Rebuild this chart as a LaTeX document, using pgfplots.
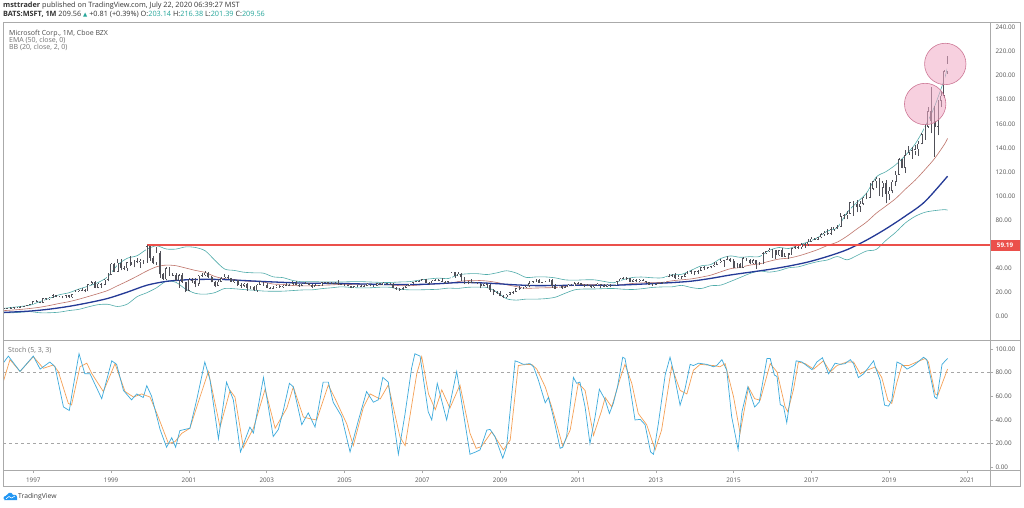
\documentclass[border=0pt]{standalone}
\usepackage{pgfplots}
\pgfplotsset{compat=1.18}
\usepackage{pgfplotstable}
\usepgfplotslibrary{fillbetween}
\usepackage{fontspec}
\setmainfont{Open Sans}
\newfontfamily\symfont{DejaVu Sans}
\definecolor{candle}{RGB}{80,80,88}
\definecolor{emac}{RGB}{36,58,150}
\definecolor{basisc}{RGB}{190,115,105}
\definecolor{bandc}{RGB}{80,172,170}
\definecolor{bandfill}{RGB}{216,236,246}
\definecolor{kc}{RGB}{60,170,220}
\definecolor{dc}{RGB}{245,160,85}
\definecolor{tvred}{RGB}{235,80,75}
\definecolor{tvgreen}{RGB}{38,166,154}
\definecolor{lblc}{RGB}{85,85,85}
\definecolor{framec}{RGB}{170,170,170}
\definecolor{pinkc}{RGB}{242,170,198}
\definecolor{pinkd}{RGB}{205,120,150}
\definecolor{tvblue}{RGB}{33,150,243}

\pgfplotstableread{
m o h l c
3 6.45 7.3 6.3 7.1
4 7.1 7.6 6.9 7.3
5 7.3 7.7 7.0 7.5
6 7.5 7.9 6.6 7.8
7 7.8 8.0 7.3 7.8
8 7.8 8.5 7.7 8.25
9 8.25 8.9 8.0 8.6
10 8.6 9.9 8.5 9.7
11 9.7 10.6 9.4 10.33
12 10.33 13.2 10.2 12.9
13 12.9 13.5 11.9 12.3
14 12.3 12.6 11.0 11.5
15 11.5 15.4 11.2 15.2
16 15.2 15.8 14.0 14.5
17 14.5 16.3 14.2 15.8
18 15.8 18.7 15.6 17.7
19 17.7 18.0 16.1 16.5
20 16.5 17.3 16.0 16.5
21 16.5 17.6 15.2 16.3
22 16.3 18.2 15.9 17.7
23 17.7 18.3 15.8 16.2
24 16.2 19.0 15.5 18.7
25 18.7 22.2 18.5 21.2
26 21.2 23.0 20.8 22.4
27 22.4 23.6 21.6 22.5
28 22.5 23.0 20.5 21.2
29 21.2 27.3 21.0 27.1
30 27.1 29.9 26.6 28.4
31 28.4 29.3 23.5 24.0
32 24.0 28.2 23.5 27.5
33 27.5 28.0 23.8 26.5
34 26.5 31.0 26.2 30.5
35 30.5 36.0 29.4 34.7
36 34.7 44.2 34.5 43.8
37 43.8 44.5 36.8 37.5
38 37.5 47.8 37.4 44.8
39 44.8 48.0 38.5 40.7
40 40.7 42.4 38.6 40.4
41 40.4 45.5 37.8 45.1
42 45.1 50.0 42.2 42.9
43 42.9 46.8 40.9 46.3
44 46.3 48.9 44.2 45.3
45 45.3 48.1 40.6 46.3
46 46.3 47.0 43.7 45.8
47 45.8 59.2 44.6 58.4
48 58.4 59.0 46.5 48.8
49 48.8 50.3 43.6 44.7
50 44.7 57.9 43.1 53.1
51 53.1 54.1 32.5 35.1
52 35.1 36.0 30.3 31.2
53 31.2 41.0 30.5 40.0
54 40.0 41.2 34.0 34.8
55 34.8 36.1 34.1 35.0
56 35.0 36.0 29.4 30.2
57 30.2 35.2 23.9 34.4
58 34.4 36.0 28.2 28.6
59 28.6 29.0 20.1 21.7
60 21.7 32.0 21.3 30.6
61 30.6 32.3 28.0 29.6
62 29.6 32.3 24.3 27.3
63 27.3 35.0 25.8 33.9
64 33.9 36.4 33.1 34.6
65 34.6 38.0 33.4 36.5
66 36.5 36.9 32.1 33.1
67 33.1 33.9 28.4 28.5
68 28.5 29.6 24.3 25.6
69 25.6 31.2 25.3 29.1
70 29.1 33.0 28.6 32.1
71 32.1 35.2 31.5 33.1
72 33.1 35.0 31.0 31.9
73 31.9 32.4 28.9 29.2
74 29.2 31.6 28.2 30.2
75 30.2 30.5 25.7 26.1
76 26.1 28.0 24.2 25.5
77 25.5 28.0 24.6 27.4
78 27.4 28.0 21.7 24.0
79 24.0 25.7 22.9 24.5
80 24.5 25.1 21.7 21.9
81 21.9 27.0 20.7 26.7
82 26.7 29.6 26.5 28.9
83 28.9 29.0 25.8 25.9
84 25.9 28.0 23.5 24.2
85 24.2 24.5 23.0 23.7
86 23.7 25.6 22.8 24.2
87 24.2 26.5 23.9 25.6
88 25.6 26.3 24.0 24.6
89 24.6 26.3 24.2 25.6
90 25.6 27.9 25.3 26.4
91 26.4 27.4 25.4 26.5
92 26.5 29.9 26.4 27.8
93 27.8 29.4 25.9 26.1
94 26.1 26.8 25.0 25.7
95 25.7 27.6 25.1 27.4
96 27.4 28.8 27.2 27.7
97 27.7 28.2 26.0 26.5
98 26.5 27.0 24.0 24.9
99 24.9 27.1 24.5 26.1
100 26.1 26.6 25.2 26.2
101 26.2 28.8 25.8 28.6
102 28.6 29.1 27.6 28.5
103 28.5 28.6 26.8 27.3
104 27.3 28.4 27.2 27.7
105 27.7 28.9 27.1 28.0
106 28.0 30.2 26.5 26.8
107 26.8 27.5 26.6 26.7
108 26.7 27.1 25.6 26.3
109 26.3 26.3 25.1 25.2
110 25.2 25.4 23.8 24.2
111 24.2 25.7 23.8 25.3
112 25.3 26.1 25.1 25.8
113 25.8 26.0 24.5 24.8
114 24.8 26.3 24.7 25.6
115 25.6 27.9 25.6 27.4
116 27.4 27.5 25.2 25.7
117 25.7 26.0 24.3 25.7
118 25.7 28.2 25.6 27.7
119 27.7 28.0 26.1 26.2
120 26.2 28.4 26.1 28.2
121 28.2 28.2 26.3 26.9
122 26.9 28.0 26.8 27.2
123 27.2 27.9 23.8 24.2
124 24.2 24.3 22.3 22.7
125 22.7 23.8 21.5 23.3
126 23.3 25.0 22.3 24.1
127 24.1 26.0 23.9 25.7
128 25.7 27.5 25.6 27.4
129 27.4 29.0 27.2 28.7
130 28.7 30.0 28.6 29.4
131 29.4 30.3 29.0 29.9
132 29.9 31.5 29.4 30.9
133 30.9 31.0 27.8 28.2
134 28.2 28.7 26.6 27.9
135 27.9 30.3 27.8 29.9
136 29.9 31.2 29.8 30.7
137 30.7 31.2 29.3 29.5
138 29.5 31.8 28.9 29.0
139 29.0 29.6 27.5 28.7
140 28.7 29.5 28.3 29.5
141 29.5 37.0 29.3 36.8
142 36.8 37.5 32.5 33.6
143 33.6 36.7 33.4 35.6
144 35.6 35.9 30.0 32.6
145 32.6 33.0 26.9 27.2
146 27.2 29.3 26.8 28.4
147 28.4 31.0 28.2 28.5
148 28.5 29.0 27.8 28.3
149 28.3 29.0 27.0 27.5
150 27.5 28.1 23.6 25.7
151 25.7 28.0 25.5 27.3
152 27.3 28.0 23.6 26.7
153 26.7 26.9 20.7 22.3
154 22.3 23.2 18.0 20.2
155 20.2 21.3 18.7 19.4
156 19.4 21.0 16.8 17.1
157 17.1 17.8 15.5 16.2
158 16.2 19.0 15.2 18.4
159 18.4 20.8 18.0 20.3
160 20.3 21.2 19.1 20.9
161 20.9 24.0 20.8 23.8
162 23.8 25.7 22.0 23.5
163 23.5 24.8 22.8 24.7
164 24.7 26.0 24.0 25.7
165 25.7 29.4 24.3 27.7
166 27.7 30.0 27.7 29.4
167 29.4 31.5 29.2 30.5
168 30.5 31.2 28.0 28.2
169 28.2 29.0 27.6 28.7
170 28.7 29.6 28.6 29.3
171 29.3 31.6 29.1 30.5
172 30.5 31.0 24.0 25.8
173 25.8 26.9 23.0 23.0
174 23.0 26.2 22.7 25.8
175 25.8 26.0 23.3 23.5
176 23.5 25.2 23.2 24.5
177 24.5 27.2 24.3 26.7
178 26.7 27.4 25.2 25.3
179 25.3 28.4 25.2 27.9
180 27.9 28.9 27.4 27.7
181 27.7 28.3 26.3 26.6
182 26.6 26.8 24.3 25.4
183 25.4 26.9 25.1 26.0
184 26.0 26.0 24.2 25.0
185 25.0 26.2 23.7 26.0
186 26.0 28.0 25.7 27.4
187 27.4 27.5 23.8 26.6
188 26.6 27.5 24.3 24.9
189 24.9 27.4 24.3 26.6
190 26.6 26.9 24.3 25.6
191 25.6 26.2 25.2 26.0
192 26.0 29.9 26.0 29.5
193 29.5 31.9 29.4 31.7
194 31.7 32.9 31.5 32.3
195 32.3 32.9 30.3 32.0
196 32.0 32.1 28.4 29.2
197 29.2 31.0 28.6 30.6
198 30.6 31.0 28.5 29.5
199 29.5 31.0 29.1 30.8
200 30.8 31.6 29.7 29.8
201 29.8 29.9 27.6 28.5
202 28.5 28.9 26.3 26.6
203 26.6 27.8 26.3 26.7
204 26.7 28.2 26.3 27.5
205 27.5 28.0 27.3 27.8
206 27.8 28.7 27.3 28.6
207 28.6 33.1 28.1 33.1
208 33.1 35.8 32.6 34.9
209 34.9 35.8 33.0 34.5
210 34.5 36.4 31.0 31.8
211 31.8 34.6 31.3 33.4
212 33.4 34.0 31.0 33.3
213 33.3 36.3 32.8 35.4
214 35.4 38.3 35.1 38.1
215 38.1 38.9 35.6 37.4
216 37.4 38.0 34.6 37.8
217 37.8 38.8 35.7 38.3
218 38.3 41.5 37.8 41.0
219 41.0 41.7 38.5 40.4
220 40.4 41.5 39.7 40.9
221 40.9 42.3 40.2 41.7
222 41.7 45.7 41.4 43.2
223 43.2 45.5 42.6 45.4
224 45.4 47.6 44.6 46.4
225 46.4 47.0 41.5 46.9
226 46.9 50.0 46.7 47.8
227 47.8 49.0 45.5 46.5
228 46.5 47.9 40.2 40.4
229 40.4 44.3 40.2 43.9
230 43.9 44.2 40.3 40.7
231 40.7 49.5 40.4 48.6
232 48.6 48.9 46.2 46.9
233 46.9 47.8 44.1 44.2
234 44.2 48.0 43.8 46.7
235 46.7 47.0 39.7 43.5
236 43.5 45.0 42.7 44.3
237 44.3 54.0 43.5 52.6
238 52.6 54.9 52.0 54.4
239 54.4 56.8 53.7 55.5
240 55.5 56.0 49.1 55.1
241 55.1 55.2 48.2 50.9
242 50.9 55.6 50.6 55.2
243 55.2 56.8 49.5 49.9
244 49.9 53.0 49.5 53.0
245 53.0 52.9 48.0 51.2
246 51.2 57.3 51.0 56.7
247 56.7 58.5 56.3 57.5
248 57.5 58.7 56.1 57.6
249 57.6 61.4 56.3 59.9
250 59.9 61.4 57.3 60.3
251 60.3 64.1 58.8 62.1
252 62.1 65.9 61.9 64.7
253 64.7 65.2 63.6 64.0
254 64.0 66.2 63.6 65.9
255 65.9 69.1 64.9 68.5
256 68.5 70.7 67.2 69.8
257 69.8 72.9 67.9 68.9
258 68.9 74.4 68.0 72.7
259 72.7 74.0 71.3 74.8
260 74.8 75.9 72.9 74.5
261 74.5 86.2 74.2 83.2
262 83.2 85.1 80.7 84.2
263 84.2 87.5 80.7 85.5
264 85.5 95.5 85.5 95.0
265 95.0 96.1 83.8 93.8
266 93.8 97.2 86.6 91.3
267 91.3 96.0 87.1 93.5
268 93.5 99.0 92.5 98.8
269 98.8 102.7 97.3 98.6
270 98.6 111.2 98.3 106.1
271 106.1 112.8 104.8 112.3
272 112.3 116.2 107.0 114.4
273 114.4 115.3 100.1 106.8
274 106.8 112.2 99.4 110.9
275 110.9 113.4 93.9 101.6
276 101.6 107.9 97.2 104.4
277 104.4 113.2 102.3 112.0
278 112.0 120.8 108.8 117.9
279 117.9 131.4 118.1 130.6
280 130.6 130.7 123.0 123.7
281 123.7 138.4 119.0 134.0
282 134.0 141.7 134.7 136.3
283 136.3 140.9 130.8 137.9
284 137.9 142.4 134.5 139.0
285 139.0 145.7 133.2 143.4
286 143.4 152.5 143.0 151.4
287 151.4 159.6 146.7 157.7
288 157.7 174.1 156.5 170.2
289 170.2 190.7 152.0 162.0
290 162.0 175.0 132.5 157.7
291 157.7 180.0 150.4 179.2
292 179.2 187.5 173.8 183.3
293 183.3 204.4 181.4 203.5
294 203.1 216.4 201.4 209.6
}\candles

\pgfplotstableread{
m basis up lo
2 4.90 6.6 3.2
5 5.44 7.6 3.2
8 6.06 8.5 3.7
11 6.86 9.6 4.2
14 7.87 12.5 3.3
17 9.31 15.3 3.3
20 11.0 18.2 3.8
23 12.5 19.9 5.1
26 14.5 22.9 6.1
29 16.8 25.4 8.2
32 19.2 28.4 10.0
35 21.8 33.3 10.3
38 25.7 42.9 8.5
41 29.5 48.5 10.5
44 33.6 50.6 16.6
47 37.9 55.9 19.9
50 41.4 58.8 24.0
53 42.8 56.2 29.4
56 42.3 56.1 28.5
59 40.4 57.9 22.9
62 38.4 57.4 19.4
65 36.7 54.7 18.7
68 33.4 46.8 20.0
71 31.5 39.6 23.4
74 30.8 38.4 23.2
77 29.7 36.9 22.5
80 29.2 36.4 22.0
83 28.7 36.1 21.3
86 27.1 33.1 21.1
89 26.8 32.4 21.2
92 25.9 30.1 21.7
95 25.6 29.0 22.2
98 25.7 29.1 22.3
101 26.1 28.9 23.3
104 26.4 28.8 24.0
107 26.8 28.8 24.8
110 26.7 29.1 24.3
113 26.5 29.1 23.9
116 26.4 28.8 24.0
119 26.5 28.5 24.5
122 26.4 28.4 24.4
125 25.8 28.8 22.8
128 25.7 29.1 22.3
131 26.3 30.3 22.3
134 26.9 31.3 22.5
137 27.4 32.0 22.8
140 27.7 31.7 23.7
143 29.1 34.7 23.5
146 30.0 35.6 24.4
149 30.1 35.7 24.5
152 29.6 35.0 24.2
155 28.4 36.4 20.4
158 26.5 38.1 14.9
161 25.0 36.2 13.8
164 23.6 32.6 14.6
167 23.8 33.0 14.6
170 24.0 33.0 15.0
173 24.2 32.2 16.2
176 25.0 30.6 19.4
179 26.3 30.3 22.3
182 26.8 30.6 23.0
185 26.8 30.6 23.0
188 26.3 29.3 23.3
191 25.8 28.2 23.4
194 26.8 30.8 22.8
197 27.6 32.6 22.6
200 28.1 32.9 23.3
203 28.3 32.3 24.3
206 28.5 32.3 24.7
209 29.8 34.8 24.8
212 30.6 35.2 26.0
215 31.4 38.6 24.2
218 32.8 42.2 23.4
221 34.5 43.3 25.7
224 37.2 48.2 26.2
227 39.8 50.4 29.2
230 40.9 49.3 32.5
233 42.8 49.8 35.8
236 43.9 49.9 37.9
239 46.0 55.0 37.0
242 47.8 57.4 38.2
245 48.6 56.6 40.6
248 50.4 59.4 41.4
251 52.9 62.1 43.7
254 55.7 65.7 45.7
257 59.1 71.1 47.1
260 61.9 73.9 49.9
263 66.8 86.4 47.2
266 72.7 94.7 50.7
269 78.5 102.5 54.5
272 85.8 115.8 55.8
275 91.8 120.3 63.3
278 98.0 126.0 70.0
281 105.8 133.8 77.8
284 113.2 143.2 83.2
287 121.9 157.2 86.6
290 131.2 174.4 88.0
293 142.8 196.8 88.8
294 147.8 207.2 88.4
}\bands

\pgfplotstableread{
m ema
2 3.55
3 3.6
11 4.7
17 6.3
23 8.6
29 11.6
35 15.2
41 20.4
47 26.1
53 29.3
59 30.6
65 31.0
71 30.8
77 30.0
83 29.2
89 28.5
95 27.9
101 27.7
107 27.6
113 27.2
119 26.9
125 26.7
131 26.8
137 27.4
143 28.3
149 28.2
155 27.4
161 26.4
167 25.8
173 25.9
179 26.1
185 26.1
191 26.1
197 26.7
203 27.5
209 28.3
215 29.5
221 31.8
227 34.6
233 36.9
239 39.2
245 42.0
251 45.4
257 50.0
263 55.6
269 63.5
275 72.9
281 83.5
287 95.4
294 116.5
}\ema

\pgfplotstableread{
m k
2.7 88
4.3 94
7.9 81
12.0 94
14.1 83
17.1 89
18.7 85
21.3 51
23.1 48
24.3 68
26.1 96
27.9 79
29.5 79
33.1 58
36.2 90
37.7 87
39.8 65
42.3 57
43.9 62
45.9 59
47.0 69
48.5 60
51.1 32
53.1 17
54.7 25
55.9 17
57.2 31
60.3 33
62.4 57
64.9 89
66.5 74
69.1 24
71.6 72
73.7 57
75.9 13
78.8 34
79.9 29
83.0 76
86.0 26
87.6 32
89.1 48
91.0 71
92.2 68
94.8 36
96.8 46
98.9 34
101.4 72
103.0 72
104.5 55
107.1 43
109.7 13
112.3 40
114.8 64
116.9 55
118.4 57
119.8 76
121.5 72
124.6 11
126.6 44
128.7 84
129.7 96
131.3 94
133.8 47
134.9 40
136.6 71
139.5 40
142.6 81
144.6 47
146.7 11
148.5 13
149.8 14.7
151.9 31.5
152.9 32
154.4 26
156.8 7.7
158.0 17.5
160.6 90
161.6 89
163.2 87
165.2 87.6
166.3 85
167.8 73.6
169.9 54.5
170.9 59
172.4 42.7
174.5 16
175.3 17
176.5 26
178.6 76
179.6 71
180.6 72
182.2 51
183.7 20
185.3 43
186.6 66
188.4 57
189.7 45.5
190.9 54
192.2 68
193.8 93
194.5 92
195.6 76
197.6 40
199.2 40.5
200.7 36
202.4 13
203.3 11
204.8 37
206.9 78
208.4 93
209.4 82
211.5 52.5
213.0 66
214.6 87
215.6 86
217.2 88
219.7 87
221.8 85
222.8 86
224.4 91
225.9 82
227.4 43
229.4 15
230.6 47
232.4 68
234.5 51
235.9 55
238.3 92
239.3 92
240.6 78
241.4 76.7
242.4 53
243.4 51.5
244.4 37.7
245.8 64
247.3 90
249.1 89
252.2 82.5
253.7 89
255.4 92.6
257.3 79
259.3 88
260.9 87
262.4 87.6
264.0 91
265.0 87.6
266.5 75.8
268.1 79
271.2 90
271.7 85
273.2 73.6
274.6 52.5
275.8 51.7
276.8 56.7
278.4 89
279.9 87
281.5 83
283.5 86
286.6 93
287.6 91
289.2 70.7
290.0 59.5
290.7 58
292.3 87
294 92
}\stochk

\pgfplotstableread{
m d
2.75 72.4
4.8 91
7.9 81
12.0 93.5
15.1 83.7
18.2 86.5
19.7 81
22.8 54
23.8 52.7
26.4 85
28.5 88
30.0 79.4
33.6 64
37.2 87.6
40.3 64
42.9 59.4
45.4 62
48.0 59.4
50.1 45.6
53.7 20
55.7 21.7
57.8 28.7
60.3 33
63.4 59.4
66.0 80.8
69.6 34
72.7 65
74.2 59.4
76.8 16.7
79.9 33
83.5 66
86.6 33
90.2 50
92.2 68
95.3 42.5
97.4 41
99.4 40
103.0 69.6
105.1 58
108.7 36.6
110.7 18.3
113.8 50.6
115.9 62
119.0 57.7
121.5 69.6
125.1 25.6
126.7 18.3
130.3 79.4
131.8 93.5
133.9 62
136.0 48.7
138.0 65.4
140.5 50
143.6 69.6
146.7 28.7
148.6 16
150.2 17.5
153.4 30
157.0 14.7
159.1 23
161.6 86
163.2 86.7
165.7 87
167.3 83
169.9 68
171.9 51
175.3 18
177.6 31.5
180.1 71
182.2 65
184.8 27
187.3 48
188.4 59
190.4 51
193.0 75
194.5 87
196.6 71
198.6 45.5
201.2 36
203.8 14.7
205.8 31.5
208.9 85
211.5 65
213.6 62
215.6 82
217.7 87
221.8 86
223.8 85
225.4 87.6
228.0 59.5
230.0 29
232.6 67.7
234.5 58
236.2 56.7
239.3 87.6
241.4 80.6
243.9 51
244.7 47
246.5 66
248.0 89
250.1 87.6
252.7 83
255.7 90
257.8 80.6
259.9 86
262.9 89
265.0 89
267.1 79
269.1 82
271.7 84.8
273.7 76
275.6 56.7
276.8 54
278.4 72
279.9 86
282.0 86
284.5 89
287.1 92
288.1 89
290.2 62
291.0 61
294 83
}\stochd

\pgfplotstableread{
m level
47 59.19
307.1 59.19
}\levelline

\pgfplotsset{
  tvaxis/.style={
    scale only axis, width=987pt, xmin=2.65, xmax=307.1,
    axis line style={draw=framec, line width=0.6pt},
    ytick pos=right, yticklabel pos=right,
    tick align=outside, major tick length=3pt,
    tick style={draw=framec, line width=0.5pt},
    yticklabel style={font=\fontsize{6.3}{7}\selectfont, text=lblc, xshift=-1pt},
    /pgf/number format/fixed, /pgf/number format/fixed zerofill,
    /pgf/number format/precision=2, /pgf/number format/assume math mode=true,
  }
}

\begin{document}
\begin{tikzpicture}
\fill[white] (0pt,0pt) rectangle (1024pt,507pt);

% main price panel
\begin{axis}[tvaxis, at={(3pt,167pt)}, anchor=south west, height=318pt,
  ymin=-19.3, ymax=244.4, ytick={0,20,...,240}, xtick=\empty]
  \addplot[name path=up, draw=none, smooth, forget plot] table[x=m, y=up] {\bands};
  \addplot[name path=lo, draw=none, smooth, forget plot] table[x=m, y=lo] {\bands};
  \addplot[fill=bandfill, draw=none, forget plot] fill between[of=up and lo];
  \addplot[draw=bandc, line width=0.6pt, smooth] table[x=m, y=up] {\bands};
  \addplot[draw=bandc, line width=0.6pt, smooth] table[x=m, y=lo] {\bands};
  \addplot[draw=basisc, line width=0.6pt, smooth] table[x=m, y=basis] {\bands};
  \addplot[draw=emac, line width=1.3pt, smooth] table[x=m, y=ema] {\ema};
  % 1999 high level (59.19)
  \addplot[draw=tvred, line width=1.7pt, no markers] table[x=m, y=level] {\levelline};
  % wicks
  \addplot[draw=none, mark=none, error bars/.cd, y dir=plus, y explicit, error mark=none,
    error bar style={draw=candle, line width=0.45pt, solid}]
    table[x=m, y=l, y error plus expr=\thisrow{h}-\thisrow{l}] {\candles};
  % bodies
  \addplot[draw=none, mark=none, error bars/.cd, y dir=plus, y explicit, error mark=none,
    error bar style={draw=candle, line width=1.9pt, solid}]
    table[x=m, y expr={min(\thisrow{o},\thisrow{c})}, y error plus expr={abs(\thisrow{c}-\thisrow{o})}] {\candles};
  % hollow inside of rising candles
  \addplot[draw=none, mark=none, error bars/.cd, y dir=plus, y explicit, error mark=none,
    error bar style={draw=white, line width=0.8pt, solid}]
    table[x=m, y expr={\thisrow{o}+0.4}, y error plus expr={max(\thisrow{c}-\thisrow{o}-0.8,0)}] {\candles};
  \draw[pinkd, fill=pinkc, fill opacity=0.55, line width=0.6pt] (axis cs:287.1,176.4) circle[radius=20.7pt];
  \draw[pinkd, fill=pinkc, fill opacity=0.55, line width=0.6pt] (axis cs:293.3,209.6) circle[radius=20.7pt];
\end{axis}

% stochastic panel
\begin{axis}[tvaxis, at={(3pt,37pt)}, anchor=south west, height=130pt,
  ymin=-2.3, ymax=107.6, ytick={0,20,...,100},
  xtick={12,36,60,84,108,132,156,180,204,228,252,276,300},
  xticklabels={1997,1999,2001,2003,2005,2007,2009,2011,2013,2015,2017,2019,2021},
  xtick pos=bottom,
  xticklabel style={font=\fontsize{6.3}{7}\selectfont, text=lblc, yshift=-1pt}]
  \addplot[gray!70, dash pattern=on 3pt off 3pt, line width=0.6pt] coordinates {(2.65,80) (307.1,80)};
  \addplot[gray!70, dash pattern=on 3pt off 3pt, line width=0.6pt] coordinates {(2.65,20) (307.1,20)};
  \addplot[draw=dc, line width=0.7pt] table[x=m, y=d] {\stochd};
  \addplot[draw=kc, line width=0.7pt] table[x=m, y=k] {\stochk};
\end{axis}

% frame
\draw[framec, line width=0.6pt] (3pt,21pt) rectangle (1020pt,485pt);
\draw[framec, line width=0.6pt] (990pt,21pt) -- (990pt,485pt);
\draw[framec, line width=0.6pt] (3pt,37pt) -- (1020pt,37pt);
\draw[framec, line width=0.6pt] (3pt,167pt) -- (1020pt,167pt);

% 59.19 tag
\fill[tvred] (990.5pt,255.8pt) rectangle (1019.5pt,267.5pt);
\node[text=white, font=\fontsize{6.3}{7}\selectfont\bfseries] at (1005pt,261.65pt) {59.19};

% header
\node[anchor=west, inner sep=0, font=\fontsize{7.3}{8}\selectfont, text=black!80] at (3pt,501.3pt)
  {\textbf{msttrader} published on TradingView.com, July 22, 2020 06:39:27 MST};
\node[anchor=west, inner sep=0, font=\fontsize{7.3}{8}\selectfont, text=black!80] at (3pt,492.7pt)
  {\textbf{BATS:MSFT, 1M} 209.56 {\color{tvgreen}\symfont\fontsize{5.5}{6}\selectfont ▲} +0.81 (+0.39\%) O:{\color{tvgreen}203.14} H:{\color{tvgreen}216.38} L:{\color{tvgreen}201.39} C:{\color{tvgreen}209.56}};

% legends
\node[anchor=west, inner sep=0, font=\fontsize{7}{8}\selectfont, text=black!70] at (9pt,473.7pt) {Microsoft Corp., 1M, Cboe BZX};
\node[anchor=west, inner sep=0, font=\fontsize{7}{8}\selectfont, text=black!55] at (9pt,466.7pt) {EMA (50, close, 0)};
\node[anchor=west, inner sep=0, font=\fontsize{7}{8}\selectfont, text=black!55] at (9pt,459.7pt) {BB (20, close, 2, 0)};
\node[anchor=west, inner sep=0, font=\fontsize{7}{8}\selectfont, text=black!55] at (8pt,157pt) {Stoch (5, 3, 3)};

% TradingView logo
\fill[tvblue] (4pt,7pt) -- (17pt,7pt) -- (17pt,10pt) arc[start angle=0, end angle=90, radius=2.2pt] -- (13pt,12.2pt) arc[start angle=20, end angle=160, radius=3.2pt] -- (5.5pt,11pt) arc[start angle=90, end angle=270, radius=2pt] -- cycle;
\draw[white, line width=0.6pt] (6pt,8.2pt) -- (9pt,10.5pt) -- (11.5pt,9pt) -- (15pt,11pt);
\node[anchor=west, inner sep=0, font=\fontsize{6.8}{7}\selectfont, text=black!75] at (18pt,10pt) {TradingView};

\pgfresetboundingbox
\useasboundingbox (0pt,0pt) rectangle (1024pt,507pt);
\end{tikzpicture}
\end{document}
